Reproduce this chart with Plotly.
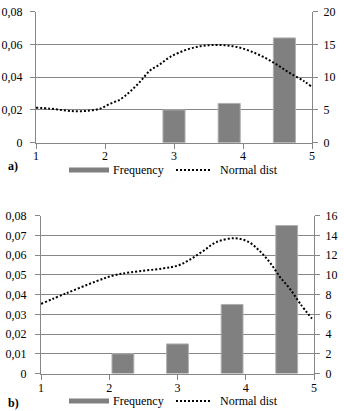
import plotly.graph_objects as go

# ---------------- data ----------------
bin_centers = [1.4, 2.2, 3.0, 3.8, 4.6]
freq_a = [0, 0, 5, 6, 16]
freq_b = [0, 2, 3, 7, 15]

curve_x_a = [1.0, 1.2, 1.4, 1.59, 1.78, 1.93, 2.07, 2.22, 2.36, 2.51, 2.65, 2.8, 2.94,
             3.13, 3.33, 3.52, 3.71, 3.91, 4.1, 4.3, 4.49, 4.68, 4.88, 5.0]
curve_y_a = [0.0214, 0.0208, 0.0198, 0.0192, 0.0196, 0.0208, 0.0237, 0.0264, 0.0311, 0.0373,
             0.044, 0.048, 0.0523, 0.056, 0.0585, 0.0596, 0.0596, 0.0585, 0.056, 0.0523,
             0.0477, 0.0425, 0.0377, 0.034]

curve_x_b = [1.0, 1.38, 1.82, 2.06, 2.31, 2.79, 3.01, 3.18, 3.38, 3.57, 3.84, 4.04, 4.21,
             4.36, 4.5, 4.65, 4.8, 4.97]
curve_y_b = [0.0353, 0.0408, 0.0469, 0.0497, 0.0513, 0.0533, 0.0548, 0.0577, 0.0622, 0.0666,
             0.0686, 0.0667, 0.0619, 0.056, 0.049, 0.0428, 0.0353, 0.0278]

x_ticks = [1, 2, 3, 4, 5]
left_ticks_a = [0, 0.02, 0.04, 0.06, 0.08]
left_text_a = ["0", "0,02", "0,04", "0,06", "0,08"]
right_ticks_a = [0, 5, 10, 15, 20]
left_ticks_b = [0, 0.01, 0.02, 0.03, 0.04, 0.05, 0.06, 0.07, 0.08]
left_text_b = ["0", "0,01", "0,02", "0,03", "0,04", "0,05", "0,06", "0,07", "0,08"]
right_ticks_b = [0, 2, 4, 6, 8, 10, 12, 14, 16]

series_names = ["Frequency", "Normal dist"]
panel_labels = ["a)", "b)"]

# ---------------- style ----------------
W, H = 344, 411
FONT = dict(family="Times New Roman", size=12, color="#000000")
GRID = "#878787"
BAR_FILL = "#808080"
BAR_EDGE = "#b0b0b0"


def edge_widths(vals):
    return [0 if v == 0 else 1 for v in vals]


fig = go.Figure()

# panel a
fig.add_trace(go.Bar(x=bin_centers, y=freq_a, width=0.32, xaxis="x", yaxis="y",
                     marker=dict(color=BAR_FILL, line=dict(color=BAR_EDGE, width=edge_widths(freq_a))),
                     name=series_names[0], showlegend=False))
fig.add_trace(go.Scatter(x=curve_x_a, y=curve_y_a, xaxis="x", yaxis="y3", mode="lines",
                         line=dict(color="black", width=2, dash="2px,2px", shape="spline"),
                         name=series_names[1], showlegend=False))
# panel b
fig.add_trace(go.Bar(x=bin_centers, y=freq_b, width=0.32, xaxis="x2", yaxis="y2",
                     marker=dict(color=BAR_FILL, line=dict(color=BAR_EDGE, width=edge_widths(freq_b))),
                     name=series_names[0], showlegend=False))
fig.add_trace(go.Scatter(x=curve_x_b, y=curve_y_b, xaxis="x2", yaxis="y4", mode="lines",
                         line=dict(color="black", width=2, dash="2px,2px", shape="spline"),
                         name=series_names[1], showlegend=False))

common_x = dict(range=[1, 5], tickvals=x_ticks, ticks="outside", ticklen=5, tickcolor=GRID,
                showline=True, linecolor=GRID, linewidth=1, showgrid=False, zeroline=False,
                tickfont=FONT, automargin=False, fixedrange=True)
common_y = dict(ticks="outside", ticklen=5, tickcolor=GRID, showline=True, linecolor=GRID,
                linewidth=1, zeroline=False, tickfont=FONT, automargin=False, fixedrange=True)

xa_dom = [36 / W, 312 / W]
ya_dom = [(H - 142.7) / H, (H - 11.7) / H]
xb_dom = [41 / W, 314 / W]
yb_dom = [(H - 373.5) / H, (H - 215.7) / H]

fig.update_layout(
    width=W, height=H,
    margin=dict(l=0, r=0, t=0, b=0),
    paper_bgcolor="white", plot_bgcolor="white",
    font=FONT,
    showlegend=False,
    hovermode=False,
    bargap=0,
    xaxis=dict(domain=xa_dom, anchor="y", ticklabelstandoff=-3, **common_x),
    yaxis=dict(domain=ya_dom, anchor="x", side="right", range=[0, 20], tickvals=right_ticks_a,
               showgrid=True, gridcolor=GRID, gridwidth=1, ticklabelstandoff=3, **common_y),
    yaxis3=dict(overlaying="y", anchor="x", side="left", range=[0, 0.08], tickvals=left_ticks_a,
                ticktext=left_text_a, showgrid=False, ticklabelstandoff=5, **common_y),
    xaxis2=dict(domain=xb_dom, anchor="y2", ticklabelstandoff=-2, **common_x),
    yaxis2=dict(domain=yb_dom, anchor="x2", side="right", range=[0, 16], tickvals=right_ticks_b,
                showgrid=True, gridcolor=GRID, gridwidth=1, ticklabelstandoff=3, **common_y),
    yaxis4=dict(overlaying="y2", anchor="x2", side="left", range=[0, 0.08], tickvals=left_ticks_b,
                ticktext=left_text_b, showgrid=False, ticklabelstandoff=6, **common_y),
)

# manual legends + panel labels
shapes = []
annotations = []
for label, ly, lab_y in zip(panel_labels, [170, 401], [166, 402.5]):
    shapes.append(dict(type="rect", xref="paper", yref="paper",
                       x0=69 / W, x1=109 / W, y0=(H - ly - 2.5) / H, y1=(H - ly + 2.5) / H,
                       fillcolor=BAR_FILL, line=dict(width=0)))
    shapes.append(dict(type="line", xref="paper", yref="paper",
                       x0=176 / W, x1=212 / W, y0=(H - ly) / H, y1=(H - ly) / H,
                       line=dict(color="black", width=2, dash="2px,2px")))
    annotations.append(dict(text=series_names[0], xref="paper", yref="paper", x=110.5 / W,
                            y=(H - ly) / H, xanchor="left", yanchor="middle", showarrow=False,
                            font=FONT))
    annotations.append(dict(text=series_names[1], xref="paper", yref="paper", x=218 / W,
                            y=(H - ly) / H, xanchor="left", yanchor="middle", showarrow=False,
                            font=FONT))
    annotations.append(dict(text="<b>%s</b>" % label, xref="paper", yref="paper", x=6 / W,
                            y=(H - lab_y) / H, xanchor="left",
                            yanchor="middle", showarrow=False, font=FONT))

fig.update_layout(shapes=shapes, annotations=annotations)
fig.write_html("out.html", config={"displayModeBar": False, "staticPlot": True},
               post_script="document.body.style.margin='0px';")
